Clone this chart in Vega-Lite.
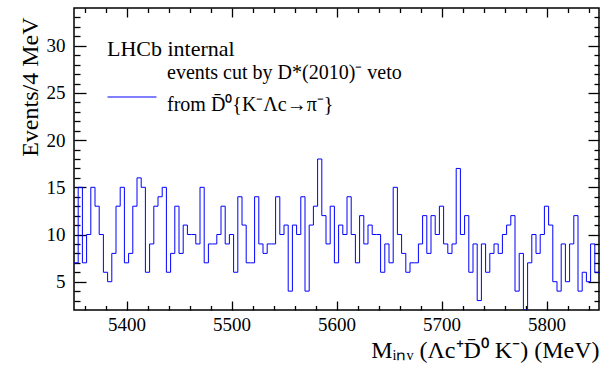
{
  "$schema": "https://vega.github.io/schema/vega-lite/v6.json",
  "width": 525,
  "height": 302,
  "autosize": {"type": "none"},
  "padding": {"left": 74, "top": 8, "right": 17, "bottom": 66},
  "background": "white",
  "data": {"values": [
    {"lo":5350,"hi":5354,"n":7},{"lo":5354,"hi":5358,"n":15},{"lo":5358,"hi":5362,"n":7},{"lo":5362,"hi":5366,"n":10},{"lo":5366,"hi":5370,"n":15},
    {"lo":5370,"hi":5374,"n":13},{"lo":5374,"hi":5378,"n":10},{"lo":5378,"hi":5382,"n":6},{"lo":5382,"hi":5386,"n":5},{"lo":5386,"hi":5390,"n":8},
    {"lo":5390,"hi":5394,"n":13},{"lo":5394,"hi":5398,"n":15},{"lo":5398,"hi":5402,"n":7},{"lo":5402,"hi":5406,"n":8},{"lo":5406,"hi":5410,"n":13},
    {"lo":5410,"hi":5414,"n":16},{"lo":5414,"hi":5418,"n":15},{"lo":5418,"hi":5422,"n":6},{"lo":5422,"hi":5426,"n":9},{"lo":5426,"hi":5430,"n":13},
    {"lo":5430,"hi":5434,"n":14},{"lo":5434,"hi":5438,"n":15},{"lo":5438,"hi":5442,"n":6},{"lo":5442,"hi":5446,"n":8},{"lo":5446,"hi":5450,"n":13},
    {"lo":5450,"hi":5454,"n":8},{"lo":5454,"hi":5458,"n":11},{"lo":5458,"hi":5462,"n":10},{"lo":5462,"hi":5466,"n":10},{"lo":5466,"hi":5470,"n":9},
    {"lo":5470,"hi":5474,"n":15},{"lo":5474,"hi":5478,"n":7},{"lo":5478,"hi":5482,"n":9},{"lo":5482,"hi":5486,"n":9},{"lo":5486,"hi":5490,"n":10},
    {"lo":5490,"hi":5494,"n":13},{"lo":5494,"hi":5498,"n":9},{"lo":5498,"hi":5502,"n":10},{"lo":5502,"hi":5506,"n":6},{"lo":5506,"hi":5510,"n":14},
    {"lo":5510,"hi":5514,"n":11},{"lo":5514,"hi":5518,"n":7},{"lo":5518,"hi":5522,"n":7},{"lo":5522,"hi":5526,"n":14},{"lo":5526,"hi":5530,"n":9},
    {"lo":5530,"hi":5534,"n":8},{"lo":5534,"hi":5538,"n":9},{"lo":5538,"hi":5542,"n":9},{"lo":5542,"hi":5546,"n":14},{"lo":5546,"hi":5550,"n":10},
    {"lo":5550,"hi":5554,"n":11},{"lo":5554,"hi":5558,"n":4},{"lo":5558,"hi":5562,"n":11},{"lo":5562,"hi":5566,"n":10},{"lo":5566,"hi":5570,"n":14},
    {"lo":5570,"hi":5574,"n":4},{"lo":5574,"hi":5578,"n":11},{"lo":5578,"hi":5582,"n":13},{"lo":5582,"hi":5586,"n":18},{"lo":5586,"hi":5590,"n":12},
    {"lo":5590,"hi":5594,"n":9},{"lo":5594,"hi":5598,"n":13},{"lo":5598,"hi":5602,"n":7},{"lo":5602,"hi":5606,"n":11},{"lo":5606,"hi":5610,"n":10},
    {"lo":5610,"hi":5614,"n":14},{"lo":5614,"hi":5618,"n":10},{"lo":5618,"hi":5622,"n":7},{"lo":5622,"hi":5626,"n":12},{"lo":5626,"hi":5630,"n":9},
    {"lo":5630,"hi":5634,"n":11},{"lo":5634,"hi":5638,"n":10},{"lo":5638,"hi":5642,"n":10},{"lo":5642,"hi":5646,"n":6},{"lo":5646,"hi":5650,"n":9},
    {"lo":5650,"hi":5654,"n":7},{"lo":5654,"hi":5658,"n":15},{"lo":5658,"hi":5662,"n":10},{"lo":5662,"hi":5666,"n":8},{"lo":5666,"hi":5670,"n":6},
    {"lo":5670,"hi":5674,"n":7},{"lo":5674,"hi":5678,"n":7},{"lo":5678,"hi":5682,"n":9},{"lo":5682,"hi":5686,"n":12},{"lo":5686,"hi":5690,"n":8},
    {"lo":5690,"hi":5694,"n":12},{"lo":5694,"hi":5698,"n":10},{"lo":5698,"hi":5702,"n":13},{"lo":5702,"hi":5706,"n":9},{"lo":5706,"hi":5710,"n":8},
    {"lo":5710,"hi":5714,"n":9},{"lo":5714,"hi":5718,"n":17},{"lo":5718,"hi":5722,"n":10},{"lo":5722,"hi":5726,"n":12},{"lo":5726,"hi":5730,"n":6},
    {"lo":5730,"hi":5734,"n":9},{"lo":5734,"hi":5738,"n":3},{"lo":5738,"hi":5742,"n":9},{"lo":5742,"hi":5746,"n":6},{"lo":5746,"hi":5750,"n":8},
    {"lo":5750,"hi":5754,"n":9},{"lo":5754,"hi":5758,"n":8},{"lo":5758,"hi":5762,"n":10},{"lo":5762,"hi":5766,"n":11},{"lo":5766,"hi":5770,"n":12},
    {"lo":5770,"hi":5774,"n":4},{"lo":5774,"hi":5778,"n":8},{"lo":5778,"hi":5782,"n":2},{"lo":5782,"hi":5786,"n":7},{"lo":5786,"hi":5790,"n":10},
    {"lo":5790,"hi":5794,"n":8},{"lo":5794,"hi":5798,"n":10},{"lo":5798,"hi":5802,"n":13},{"lo":5802,"hi":5806,"n":11},{"lo":5806,"hi":5810,"n":5},
    {"lo":5810,"hi":5814,"n":4},{"lo":5814,"hi":5818,"n":9},{"lo":5818,"hi":5822,"n":5},{"lo":5822,"hi":5826,"n":9},{"lo":5826,"hi":5830,"n":12},
    {"lo":5830,"hi":5834,"n":4},{"lo":5834,"hi":5838,"n":6},{"lo":5838,"hi":5842,"n":5},{"lo":5842,"hi":5846,"n":9},{"lo":5846,"hi":5850,"n":6}
  ]},
  "transform": [{"fold": ["lo", "hi"], "as": ["edge", "m"]}],
  "layer": [
    {
      "mark": {"type": "line", "strokeWidth": 1, "clip": true},
      "encoding": {
        "x": {"field": "m", "type": "quantitative",
              "scale": {"domain": [5350, 5850], "nice": false, "zero": false},
              "axis": {"orient": "bottom", "values": [5400, 5500, 5600, 5700, 5800], "format": "d", "ticks": false, "domain": false,
                       "labelFontSize": 19, "labelPadding": 5, "labelFlush": false,
                       "title": "Mᵢₙᵥ (Λc⁺D̄⁰ K⁻) (MeV)", "titleAnchor": "end", "titleFontSize": 24, "titlePadding": 4}},
        "y": {"field": "n", "type": "quantitative",
              "scale": {"domain": [2, 34], "nice": false, "zero": false},
              "axis": {"orient": "left", "values": [5, 10, 15, 20, 25, 30], "format": "d", "ticks": false, "domain": false,
                       "labelFontSize": 19, "labelPadding": 9, "labelFlush": false,
                       "title": "Events/4 MeV", "titleAnchor": "end", "titleFontSize": 24, "titlePadding": 4, "titleY": 9}},
        "color": {"datum": "events cut by D*(2010)⁻ veto|from D̄⁰{K⁻Λc→π⁻}", "type": "nominal",
                  "scale": {"range": ["#0000ff"]},
                  "legend": {"orient": "none", "legendX": 33, "legendY": 31,
                             "title": "LHCb internal", "titleFont": "Liberation Serif", "titleFontSize": 22, "titleFontWeight": "normal", "titleColor": "black", "titlePadding": 11,
                             "symbolType": "stroke", "symbolSize": 2400, "symbolStrokeWidth": 1,
                             "labelFont": "Liberation Serif", "labelFontSize": 20, "labelColor": "black", "labelOffset": 10, "labelLimit": 0,
                             "labelExpr": "split(datum.label, '|')",
                             "encode": {"labels": {"update": {"lineHeight": {"value": 32}, "dy": {"value": -24}}}}}}
      }
    },
    {
      "mark": {"type": "point", "opacity": 0},
      "encoding": {
        "x": {"field": "m", "type": "quantitative", "scale": {"domain": [5350, 5850], "nice": false, "zero": false},
              "axis": {"orient": "bottom", "values": [5400, 5500, 5600, 5700, 5800], "labels": false, "title": null, "domain": false, "ticks": true, "tickSize": -9}},
        "y": {"field": "n", "type": "quantitative", "scale": {"domain": [2, 34], "nice": false, "zero": false},
              "axis": {"orient": "left", "values": [5, 10, 15, 20, 25, 30], "labels": false, "title": null, "domain": false, "ticks": true, "tickSize": -12}}
      }
    },
    {
      "mark": {"type": "point", "opacity": 0},
      "encoding": {
        "x": {"field": "m", "type": "quantitative", "scale": {"domain": [5350, 5850], "nice": false, "zero": false},
              "axis": {"orient": "bottom", "values": [5360, 5380, 5420, 5440, 5460, 5480, 5520, 5540, 5560, 5580, 5620, 5640, 5660, 5680, 5720, 5740, 5760, 5780, 5820, 5840], "labels": false, "title": null, "domain": false, "ticks": true, "tickSize": -4.5}},
        "y": {"field": "n", "type": "quantitative", "scale": {"domain": [2, 34], "nice": false, "zero": false},
              "axis": {"orient": "left", "values": [3, 4, 6, 7, 8, 9, 11, 12, 13, 14, 16, 17, 18, 19, 21, 22, 23, 24, 26, 27, 28, 29, 31, 32, 33], "labels": false, "title": null, "domain": false, "ticks": true, "tickSize": -6}}
      }
    },
    {
      "mark": {"type": "point", "opacity": 0},
      "encoding": {
        "x": {"field": "m", "type": "quantitative", "scale": {"domain": [5350, 5850], "nice": false, "zero": false},
              "axis": {"orient": "top", "values": [5400, 5500, 5600, 5700, 5800], "labels": false, "title": null, "domain": false, "ticks": true, "tickSize": -9}},
        "y": {"field": "n", "type": "quantitative", "scale": {"domain": [2, 34], "nice": false, "zero": false},
              "axis": {"orient": "right", "values": [5, 10, 15, 20, 25, 30], "labels": false, "title": null, "domain": false, "ticks": true, "tickSize": -11}}
      }
    },
    {
      "mark": {"type": "point", "opacity": 0},
      "encoding": {
        "x": {"field": "m", "type": "quantitative", "scale": {"domain": [5350, 5850], "nice": false, "zero": false},
              "axis": {"orient": "top", "values": [5360, 5380, 5420, 5440, 5460, 5480, 5520, 5540, 5560, 5580, 5620, 5640, 5660, 5680, 5720, 5740, 5760, 5780, 5820, 5840], "labels": false, "title": null, "domain": false, "ticks": true, "tickSize": -4.5}},
        "y": {"field": "n", "type": "quantitative", "scale": {"domain": [2, 34], "nice": false, "zero": false},
              "axis": {"orient": "right", "values": [3, 4, 6, 7, 8, 9, 11, 12, 13, 14, 16, 17, 18, 19, 21, 22, 23, 24, 26, 27, 28, 29, 31, 32, 33], "labels": false, "title": null, "domain": false, "ticks": true, "tickSize": -5}}
      }
    }
  ],
  "resolve": {"axis": {"x": "independent", "y": "independent"}},
  "config": {
    "font": "Liberation Serif",
    "view": {"stroke": "black", "strokeWidth": 1.5},
    "axis": {"labelFont": "Liberation Serif", "titleFont": "Liberation Serif", "labelColor": "black", "titleColor": "black",
             "titleFontWeight": "normal", "tickColor": "black", "tickWidth": 1.3, "grid": false}
  }
}
